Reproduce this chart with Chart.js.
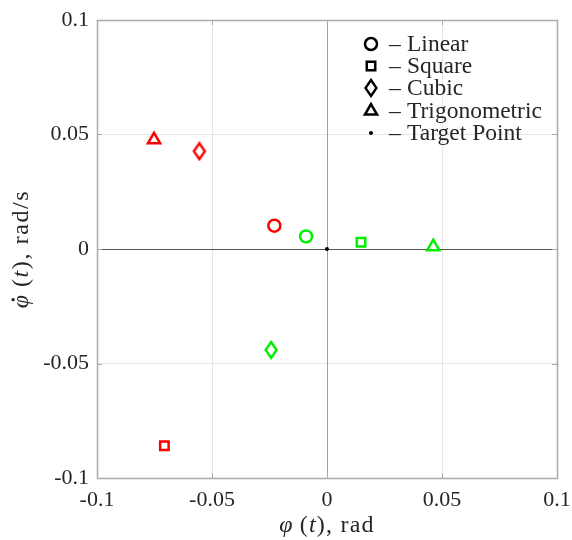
<!DOCTYPE html>
<html>
<head>
<meta charset="utf-8">
<script src="https://cdn.jsdelivr.net/npm/chart.js@4.4.0/dist/chart.umd.min.js"></script>
<style>
  html, body { margin: 0; padding: 0; background: #fff; }
  #wrap { width: 572px; height: 540px; }
</style>
</head>
<body>
<div id="wrap"><canvas id="phaseChart" width="572" height="540"></canvas></div>
<script>
// end states of each control law, two runs
const methods = ["Linear", "Square", "Cubic", "Trigonometric"];
const markers = ["circle", "rect", "diamond", "triangle"];
const redPhi = [-0.0229, -0.0707, -0.0555, -0.0752];
const redRate = [0.0102, -0.0859, 0.0427, 0.0477];
const greenPhi = [-0.0091, 0.0148, -0.0243, 0.0462];
const greenRate = [0.0055, 0.0029, -0.0441, 0.0010];
const targetPoint = [0, 0];
const tickValues = [-0.1, -0.05, 0, 0.05, 0.1];

const SERIF = "'Liberation Serif', 'DejaVu Serif', serif";
const RED = "#ff0000";
const GREEN = "#00ee00";
const INK = "#262626";

// tall thin diamond, Chart.js only has a square one
function diamondMark(color) {
  const c = document.createElement("canvas");
  c.width = 16; c.height = 20;
  const g = c.getContext("2d");
  g.strokeStyle = color;
  g.lineWidth = 2.4;
  g.beginPath();
  g.moveTo(8, 2); g.lineTo(13.5, 10); g.lineTo(8, 18); g.lineTo(2.5, 10);
  g.closePath();
  g.stroke();
  return c;
}
const diamonds = { red: diamondMark(RED), green: diamondMark(GREEN), black: diamondMark("#000") };

const styleFor = (m, key) => m === "diamond" ? diamonds[key] : m;

const datasets = methods.map((name, i) => ({
  label: name,
  data: [
    { x: redPhi[i], y: redRate[i] },
    { x: greenPhi[i], y: greenRate[i] }
  ],
  pointStyle: [styleFor(markers[i], "red"), styleFor(markers[i], "green")],
  pointRadius: markers[i] === "triangle" ? 7 : 6,
  pointBorderWidth: 2.5,
  pointBorderColor: [RED, GREEN],
  pointBackgroundColor: "rgba(0,0,0,0)",
  showLine: false
}));
datasets.push({
  label: "Target Point",
  data: [{ x: targetPoint[0], y: targetPoint[1] }],
  pointStyle: "circle",
  pointRadius: 2,
  pointBorderWidth: 0,
  pointBackgroundColor: "#000",
  showLine: false
});

// text with italic pieces, centred on (cx, cy); a piece may carry a dot accent
function richText(ctx, parts, cx, cy, size, spacing) {
  ctx.letterSpacing = spacing + "px";
  const fontOf = it => (it ? "italic " : "") + size + "px " + SERIF;
  let total = 0;
  const widths = parts.map(([t, it]) => {
    ctx.font = fontOf(it);
    const w = ctx.measureText(t).width;
    total += w;
    return w;
  });
  let x = cx - total / 2;
  ctx.textBaseline = "middle";
  ctx.textAlign = "left";
  parts.forEach(([t, it, dot], i) => {
    ctx.font = fontOf(it);
    ctx.fillText(t, x, cy);
    if (dot) {
      ctx.beginPath();
      ctx.arc(x + widths[i] * 0.58, cy - size * 0.37, 1.7, 0, Math.PI * 2);
      ctx.fill();
    }
    x += widths[i];
  });
  ctx.letterSpacing = "0px";
}

const framePlugin = {
  id: "frame",
  beforeDatasetsDraw(chart) {
    const { ctx, chartArea: a, scales } = chart;
    const x0 = Math.round(scales.x.getPixelForValue(0)) + 0.5;
    const y0 = Math.round(scales.y.getPixelForValue(0)) + 0.5;
    ctx.save();
    ctx.lineWidth = 1;
    ctx.strokeStyle = "#a0a0a0";
    ctx.beginPath();
    ctx.moveTo(x0, a.top);
    ctx.lineTo(x0, a.bottom);
    ctx.stroke();
    ctx.strokeStyle = "#555";
    ctx.beginPath();
    ctx.moveTo(a.left, y0);
    ctx.lineTo(a.right, y0);
    ctx.stroke();

    // box and inward ticks
    ctx.strokeStyle = "#aaa";
    ctx.lineWidth = 1.5;
    ctx.strokeRect(Math.round(a.left) + 0.5, Math.round(a.top) + 0.5,
      Math.round(a.right - a.left), Math.round(a.bottom - a.top));
    ctx.lineWidth = 1;
    ctx.beginPath();
    tickValues.forEach(v => {
      const px = Math.round(scales.x.getPixelForValue(v)) + 0.5;
      const py = Math.round(scales.y.getPixelForValue(v)) + 0.5;
      ctx.moveTo(px, a.bottom); ctx.lineTo(px, a.bottom - 5);
      ctx.moveTo(px, a.top); ctx.lineTo(px, a.top + 5);
      ctx.moveTo(a.left, py); ctx.lineTo(a.left + 5, py);
      ctx.moveTo(a.right, py); ctx.lineTo(a.right - 5, py);
    });
    ctx.stroke();
    ctx.restore();
  },
  afterDraw(chart) {
    const { ctx, chartArea: a } = chart;
    ctx.save();
    ctx.fillStyle = INK;

    // axis titles
    richText(ctx, [["\u03c6", true], ["\u2009(", false], ["t", true], ["), rad", false]],
      (a.left + a.right) / 2, 526, 24, 1.2);
    ctx.save();
    ctx.translate(22, (a.top + a.bottom) / 2);
    ctx.rotate(-Math.PI / 2);
    richText(ctx, [["\u03c6", true, true], ["\u2009(", false], ["t", true], ["), rad/s", false]],
      0, 0, 24, 1.6);
    ctx.restore();

    // legend in the upper right corner
    const rows = [44, 66, 88, 111, 133];
    chart.data.datasets.forEach((ds, i) => {
      const y = rows[i];
      const m = i < markers.length ? markers[i] : "dot";
      ctx.strokeStyle = "#000";
      ctx.fillStyle = "#000";
      ctx.lineWidth = 2.5;
      if (m === "diamond") {
        ctx.drawImage(diamonds.black, 371 - 8, y - 10);
      } else if (m === "dot") {
        ctx.beginPath();
        ctx.arc(371, y, 2, 0, Math.PI * 2);
        ctx.fill();
      } else {
        ctx.fillStyle = "rgba(0,0,0,0)";
        Chart.helpers.drawPoint(ctx, {
          pointStyle: m,
          radius: m === "triangle" ? 7 : 6,
          borderWidth: 2.5,
          rotation: 0
        }, 371, y);
      }
      ctx.fillStyle = INK;
      ctx.font = "23.5px " + SERIF;
      ctx.textAlign = "left";
      ctx.textBaseline = "middle";
      ctx.fillText("\u2013", 389, y + 1);
      ctx.fillText(ds.label, 407, y + 1);
    });
    ctx.restore();
  }
};

const tickFmt = v => String(+v.toFixed(2));

new Chart(document.getElementById("phaseChart"), {
  type: "scatter",
  data: { datasets },
  options: {
    responsive: false,
    animation: false,
    devicePixelRatio: 1,
    layout: { padding: { left: 0, top: 20, right: 15, bottom: 0 } },
    plugins: { legend: { display: false }, tooltip: { enabled: false } },
    scales: {
      x: {
        min: -0.1, max: 0.1,
        afterFit: s => { s.height = 62; s.paddingLeft = 0; s.paddingRight = 0; },
        afterBuildTicks: s => { s.ticks = tickValues.map(v => ({ value: v })); },
        ticks: {
          padding: 9,
          color: INK,
          font: { family: SERIF, size: 22 },
          callback: tickFmt
        },
        grid: { color: "#e6e6e6", drawTicks: false },
        border: { display: false }
      },
      y: {
        min: -0.1, max: 0.1,
        afterFit: s => { s.width = 97; s.paddingTop = 0; s.paddingBottom = 0; },
        afterBuildTicks: s => { s.ticks = tickValues.map(v => ({ value: v })); },
        ticks: {
          padding: 8,
          color: INK,
          font: { family: SERIF, size: 22 },
          callback: tickFmt
        },
        grid: { color: "#e6e6e6", drawTicks: false },
        border: { display: false }
      }
    }
  },
  plugins: [framePlugin]
});
</script>
</body>
</html>
